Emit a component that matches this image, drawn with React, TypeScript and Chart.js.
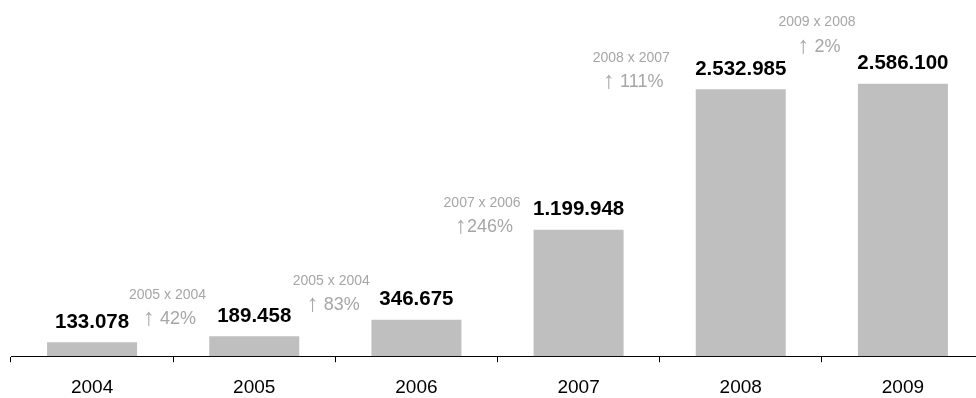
import React, { useEffect, useRef } from "react";
import { Chart, registerables } from "chart.js";

Chart.register(...registerables);

const categories = ["2004", "2005", "2006", "2007", "2008", "2009"];
const values = [133078, 189458, 346675, 1199948, 2532985, 2586100];
const valueLabels = ["133.078", "189.458", "346.675", "1.199.948", "2.532.985", "2.586.100"];

const notesTitle = ["2005 x 2004", "2005 x 2004", "2007 x 2006", "2008 x 2007", "2009 x 2008"];
const notesChange = ["\u2191 42%", "\u2191 83%", "\u2191246%", "\u2191 111%", "\u2191 2%"];
// anchor of each note in data space (category index, value)
const notesAt = [0.465, 1.475, 2.405, 3.325, 4.47];
const notesValue = [580000, 713000, 1455000, 2833000, 3166000];

const FONT = "'Liberation Sans', Arial, sans-serif";

const labelPlugin = {
  id: "labels",
  afterDatasetsDraw(chart: any) {
    const ctx = chart.ctx;
    const meta = chart.getDatasetMeta(0);
    const xs = chart.scales.x;
    const ys = chart.scales.y;
    ctx.save();
    ctx.textBaseline = "middle";
    ctx.textAlign = "center";
    ctx.fillStyle = "#000";
    ctx.font = `bold 20.5px ${FONT}`;
    meta.data.forEach((bar: any, i: number) => {
      ctx.fillText(valueLabels[i], bar.x, bar.y - 20);
    });
    ctx.fillStyle = "#a6a6a6";
    notesTitle.forEach((t, i) => {
      const x = xs.getPixelForValue(notesAt[i]);
      const y = ys.getPixelForValue(notesValue[i]);
      ctx.textAlign = "center";
      ctx.textBaseline = "middle";
      ctx.font = `14px ${FONT}`;
      ctx.fillText(t, x, y);
      // second line: arrow drawn larger, then the percentage
      const s = notesChange[i];
      const arrow = s.charAt(0);
      const rest = s.slice(1);
      ctx.font = `24px ${FONT}`;
      const wa = ctx.measureText(arrow).width;
      ctx.font = `18px ${FONT}`;
      const wr = ctx.measureText(rest).width;
      const x0 = x + 2 - (wa + wr) / 2;
      ctx.textAlign = "left";
      ctx.textBaseline = "alphabetic";
      const base = y + 29;
      ctx.font = `24px ${FONT}`;
      ctx.fillText(arrow, x0, base + 1);
      ctx.font = `18px ${FONT}`;
      ctx.fillText(rest, x0 + wa, base);
    });
    ctx.restore();
  },
};

export default function App() {
  const ref = useRef<HTMLCanvasElement>(null);
  useEffect(() => {
    document.body.style.overflow = "hidden";
    const chart = new Chart(ref.current!, {
      type: "bar",
      data: {
        labels: categories,
        datasets: [
          {
            data: values,
            backgroundColor: "#bfbfbf",
            borderWidth: 0,
            barPercentage: 0.555,
            categoryPercentage: 1,
          },
        ],
      },
      options: {
        animation: false,
        responsive: false,
        devicePixelRatio: 1,
        layout: { padding: { left: 11, right: 16, top: 0, bottom: 0 } },
        plugins: { legend: { display: false }, tooltip: { enabled: false } },
        scales: {
          x: {
            offset: true,
            grid: {
              offset: true,
              drawOnChartArea: false,
              drawTicks: true,
              tickLength: 6,
              color: "#000",
            },
            border: { display: true, color: "#000", width: 1 },
            ticks: {
              color: "#000",
              padding: 14,
              font: { family: FONT, size: 19 },
            },
          },
          y: {
            display: false,
            min: 0,
            max: 3380000,
          },
        },
      },
      plugins: [labelPlugin],
    });
    return () => chart.destroy();
  }, []);
  return (
    <div style={{ position: "absolute", left: 0, top: 0, width: 1000, height: 398, overflow: "hidden" }}>
      <canvas ref={ref} width={1000} height={413} style={{ width: 1000, height: 413 }} />
    </div>
  );
}
